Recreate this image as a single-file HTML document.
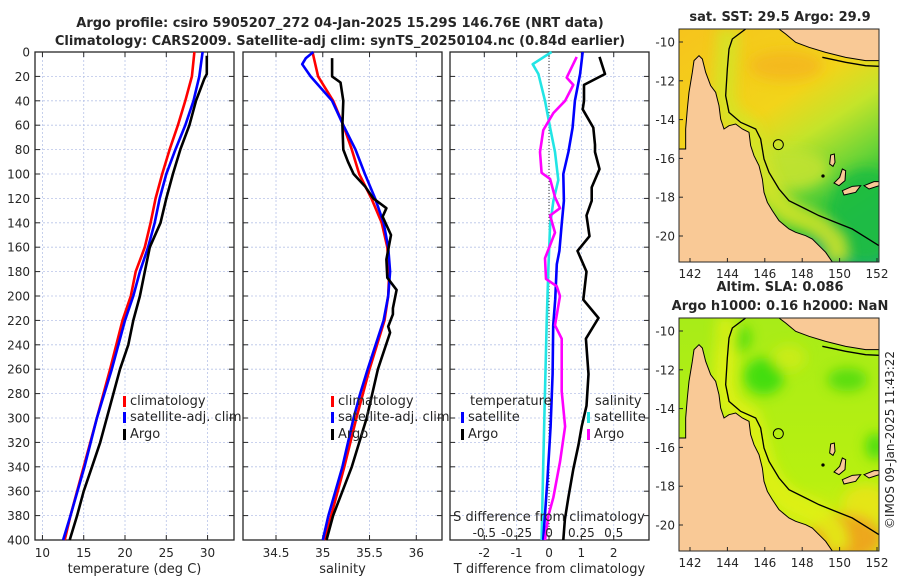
<!DOCTYPE html>
<html><head><meta charset="utf-8"><style>
body{margin:0;background:#fff;}
svg text{font-family:"DejaVu Sans","Liberation Sans",sans-serif;fill:#262626;}
</style></head><body>
<svg id="fig" width="900" height="580" viewBox="0 0 900 580" xmlns="http://www.w3.org/2000/svg">
<defs>
<linearGradient id="sst" x1="0" y1="0" x2="0.55" y2="1">
<stop offset="0" stop-color="#f6c41c"/><stop offset="0.45" stop-color="#f2d41a"/><stop offset="0.62" stop-color="#c4e42a"/><stop offset="0.8" stop-color="#6cd436"/><stop offset="0.92" stop-color="#2ec33c"/><stop offset="1" stop-color="#1fb070"/>
</linearGradient>
<linearGradient id="sla" x1="0" y1="0" x2="0" y2="1">
<stop offset="0" stop-color="#a8ec18"/><stop offset="0.7" stop-color="#b8f010"/><stop offset="1" stop-color="#dcec18"/>
</linearGradient>
<filter id="blur" x="-50%" y="-50%" width="200%" height="200%"><feGaussianBlur stdDeviation="18"/></filter>
<g id="geo">
<path d="M20,360 L20,300 L25,240 L30,190 L40,130 L45,95 L60,80 L70,90 L80,130 L95,170 L110,190 L120,230 L125,270 L135,300 L150,290 L170,285 L190,300 L210,310 L215,350 L225,380 L240,410 L250,450 L255,490 L265,520 L280,545 L300,575 L330,600 L350,610 L380,620 L400,630 L420,650 L440,670 L460,699 L0,699 L0,360 Z" fill="#f9c996" stroke="#000" stroke-width="3"/>
<path d="M300,0 L320,15 L350,40 L390,55 L440,70 L500,85 L560,95 L600,95 L600,0 Z" fill="#f9c996" stroke="#000" stroke-width="3"/>
<path d="M200,0 L160,30 L150,60 L145,120 L140,200 L150,250 L185,280 L230,300 L245,330 L255,390 L270,430 L300,480 L330,515 L380,540 L420,560 L470,580 L520,600 L560,625 L600,650" fill="none" stroke="#000" stroke-width="4"/>
<path d="M430,85 L500,100 L560,110 L600,112" fill="none" stroke="#000" stroke-width="4"/>
<path d="M455,378 L466,375 L468,400 L462,412 L452,405 Z M490,420 L500,425 L498,455 L480,470 L465,462 L482,445 Z M490,485 L520,472 L545,470 L530,490 L495,498 Z M555,470 L585,458 L600,458 L600,470 L570,480 Z" fill="#f9c996" stroke="#000" stroke-width="3"/>
<circle cx="432" cy="441" r="5" fill="#000"/>
</g>
</defs>
</svg>
<script>
// ---- data ----
const depthTick=[0,20,40,60,80,100,120,140,160,180,200,220,240,260,280,300,320,340,360,380,400];
const tempTicks=[10,15,20,25,30];
const salTicks=[34.5,35,35.5,36];
const tdTicks=[-2,-1,0,1,2];
const sdTicks=[-0.5,-0.25,0,0.25,0.5];
const sdTickLabels=["-0.5","-0.25","0","0.25","0.5"];
const latTicks=[-10,-12,-14,-16,-18,-20];
const lonTicks=[142,144,146,148,150,152];

const tClimD=[0,20,40,60,80,100,120,140,160,180,200,220,260,300,340,380,400];
const tClim=[28.4,28.1,27.3,26.4,25.4,24.5,23.7,23.1,22.4,21.3,20.7,19.7,18.2,16.6,15.0,13.4,12.7];
const tSatD=[0,20,40,60,80,100,120,140,160,180,200,220,260,300,340,380,400];
const tSat=[29.4,29.0,28.3,27.3,26.1,25.0,24.2,23.6,22.8,21.8,21.0,20.0,18.4,16.6,15.1,13.4,12.5];
const tArgoD=[3,18,22,40,60,80,100,120,140,160,180,200,220,240,260,280,300,320,340,360,380,400];
const tArgo=[29.9,29.9,29.6,28.6,27.8,26.7,25.8,25.0,24.3,23.0,22.4,21.8,21.0,20.4,19.4,18.6,17.8,17.0,16.0,15.0,14.2,13.3];

const sClimD=[0,20,40,60,80,100,120,140,160,180,200,220,260,300,340,380,400];
const sClim=[34.89,34.95,35.11,35.22,35.31,35.39,35.52,35.63,35.69,35.71,35.70,35.66,35.50,35.36,35.23,35.09,35.02];
const sSatD=[0,5,10,20,40,60,80,100,120,140,160,180,200,220,260,280,300,340,380,400];
const sSat=[34.90,34.82,34.78,34.87,35.10,35.22,35.35,35.45,35.56,35.65,35.70,35.72,35.70,35.65,35.48,35.40,35.33,35.21,35.06,35.00];
const sArgoD=[5,20,25,40,60,80,90,100,110,120,128,135,150,170,185,195,210,215,225,230,260,300,340,380,400];
const sArgo=[35.10,35.10,35.19,35.22,35.21,35.22,35.27,35.33,35.45,35.54,35.68,35.64,35.73,35.68,35.69,35.79,35.75,35.75,35.70,35.72,35.59,35.47,35.31,35.11,35.04];

const dtSatD=[0,18,40,62,82,100,122,142,163,174,203,224,264,307,351,400];
const dtSat=[1.04,0.96,0.80,0.73,0.60,0.44,0.46,0.39,0.32,0.24,0.19,0.13,0.11,0.05,-0.05,-0.18];
const dtArgoD=[4,18,27,40,47,62,76,82,96,111,122,134,151,163,180,203,218,235,264,290,307,322,342,365,383,400];
const dtArgo=[1.56,1.73,1.08,1.08,1.04,1.37,1.42,1.42,1.56,1.32,1.32,1.16,1.25,0.88,1.16,1.06,1.53,1.14,1.22,1.16,1.01,0.91,0.75,0.60,0.49,0.44];
const dsSatD=[0,10,18,40,62,82,105,122,142,177,221,278,336,400];
const dsSat=[0.02,-0.126,-0.082,-0.031,0.008,0.046,0.072,0.034,0.008,-0.005,-0.018,-0.031,-0.044,-0.057];
const dsArgoD=[4,21,27,40,50,64,82,99,104,119,128,134,148,169,186,192,200,224,235,278,307,336,365,380,400];
const dsArgo=[0.214,0.137,0.188,0.124,0.034,-0.044,-0.07,-0.057,0.008,0.046,0.085,0.008,0.046,-0.031,-0.023,0.059,0.085,0.046,0.098,0.098,0.124,0.085,0.034,-0.005,-0.031];

// ---- layout ----
const NS="http://www.w3.org/2000/svg";
const svg=document.getElementById('fig');
const Y0=52,Y1=540;
const yD=d=>Y0+(d/400)*(Y1-Y0);
const P1={x0:35,x1:234,lo:9.1,hi:33.2};
const P2={x0:243,x1:442,lo:34.147,hi:36.275};
const P3={x0:450,x1:649,lo:-3.06,hi:3.09};
const sx=(p,v)=>p.x0+(v-p.lo)/(p.hi-p.lo)*(p.x1-p.x0);
const sdx=v=>sx(P3,v*4);

function el(tag,attrs,parent){const e=document.createElementNS(NS,tag);for(const k in attrs)e.setAttribute(k,attrs[k]);(parent||svg).appendChild(e);return e;}
function txt(x,y,s,size,anchor,weight,parent){const t=el('text',{x:x,y:y,'font-size':size,'text-anchor':anchor||'middle','font-weight':weight||'normal'},parent);t.textContent=s;return t;}

let t=txt(340,27,"Argo profile: csiro 5905207_272 04-Jan-2025 15.29S 146.76E (NRT data)",13,'middle','bold');


t=txt(340,45,"Climatology: CARS2009. Satellite-adj clim: synTS_20250104.nc (0.84d earlier)",13,'middle','bold');



function panel(p,name,ticks,tickLabels,xlabel){
  const g=el('g',{});
  
  
  depthTick.forEach(d=>{
    if(d>0&&d<400){const l=el('line',{x1:p.x0,x2:p.x1,y1:yD(d),y2:yD(d),stroke:'#b8c4e8','stroke-width':0.8,'stroke-dasharray':'2,2'},g);
    
    }
    el('line',{x1:p.x0,x2:p.x0+5,y1:yD(d),y2:yD(d),stroke:'#262626','stroke-width':1},g);
    el('line',{x1:p.x1,x2:p.x1-5,y1:yD(d),y2:yD(d),stroke:'#262626','stroke-width':1},g);
  });
  ticks.forEach((v,i)=>{
    const x=sx(p,v);
    const l=el('line',{x1:x,x2:x,y1:Y0,y2:Y1,stroke:'#b8c4e8','stroke-width':0.8,'stroke-dasharray':'2,2'},g);
    
    
    el('line',{x1:x,x2:x,y1:Y1,y2:Y1-5,stroke:'#262626'},g);
    el('line',{x1:x,x2:x,y1:Y0,y2:Y0+5,stroke:'#262626'},g);
    const tl=txt(x,557,tickLabels[i],12,'middle','normal',g);
    
    
  });
  const r=el('rect',{x:p.x0,y:Y0,width:p.x1-p.x0,height:Y1-Y0,fill:'none',stroke:'#262626','stroke-width':1.3},g);
  
  
  const xl=txt((p.x0+p.x1)/2,573,xlabel,13,'middle','normal',g);
  
  
  return g;
}
const g1=panel(P1,'temperature-panel',tempTicks,tempTicks.map(String),'temperature (deg C)');
const g2=panel(P2,'salinity-panel',salTicks,salTicks.map(String),'salinity');
const g3=panel(P3,'difference-panel',tdTicks,tdTicks.map(String),'T difference from climatology');

depthTick.forEach(d=>{const tl=txt(30,yD(d)+4.5,String(d),12,'end');

});

let z=el('line',{x1:sx(P3,0),x2:sx(P3,0),y1:Y0,y2:Y1,stroke:'#333','stroke-width':1,'stroke-dasharray':'1,2'},g3);



function line(ds,vs,fx,color,name,parent){
  const pts=ds.map((d,i)=>fx(vs[i]).toFixed(1)+','+yD(d).toFixed(1)).join(' ');
  const pl=el('polyline',{points:pts,fill:'none',stroke:color,'stroke-width':2.6,'stroke-linejoin':'round'},parent);
  
  
}
line(tClimD,tClim,v=>sx(P1,v),'#ff0000','temp-climatology-line',g1);
line(tSatD,tSat,v=>sx(P1,v),'#0000ff','temp-satellite-line',g1);
line(tArgoD,tArgo,v=>sx(P1,v),'#000000','temp-argo-line',g1);
line(sClimD,sClim,v=>sx(P2,v),'#ff0000','sal-climatology-line',g2);
line(sSatD,sSat,v=>sx(P2,v),'#0000ff','sal-satellite-line',g2);
line(sArgoD,sArgo,v=>sx(P2,v),'#000000','sal-argo-line',g2);
line(dsSatD,dsSat,sdx,'#22e5e5','sdiff-satellite-line',g3);
line(dtSatD,dtSat,v=>sx(P3,v),'#0000ff','tdiff-satellite-line',g3);
line(dsArgoD,dsArgo,sdx,'#ff00ff','sdiff-argo-line',g3);
line(dtArgoD,dtArgo,v=>sx(P3,v),'#000000','tdiff-argo-line',g3);

function legend(x,y,color,label,parent,name){
  const g=el('g',{},parent);
  
  
  if(color)el('rect',{x:x,y:y-9,width:3,height:11,fill:color},g);
  txt(x+7,y,label,13,'start','normal',g);
}
legend(123,405,'#ff0000','climatology',g1,'legend-climatology');
legend(123,421,'#0000ff','satellite-adj. clim',g1,'legend-satellite');
legend(123,438,'#000000','Argo',g1,'legend-argo');
legend(331,405,'#ff0000','climatology',g2,'legend-climatology');
legend(331,421,'#0000ff','satellite-adj. clim',g2,'legend-satellite');
legend(331,438,'#000000','Argo',g2,'legend-argo');
legend(463,405,null,'temperature',g3,'legend-temperature-heading');
legend(461,421,'#0000ff','satellite',g3,'legend-temp-satellite');
legend(461,438,'#000000','Argo',g3,'legend-temp-argo');
legend(588,405,null,'salinity',g3,'legend-salinity-heading');
legend(587,421,'#22e5e5','satellite',g3,'legend-sal-satellite');
legend(587,438,'#ff00ff','Argo',g3,'legend-sal-argo');
t=txt(549,521,'S difference from climatology',13,'middle','normal',g3);


sdTicks.forEach((v,i)=>{const tl=txt(sdx(v),537,sdTickLabels[i],12,'middle','normal',g3);

});

// maps (inner coords: 600x699 for 200x233 px)
const mapX=lon=>33+56.1*(lon-142);
const mapY=lat=>39+(-10-lat)*58.2;
function map(top,bg,name,titles,blobs,band){
  const g=el('g',{});
  
  
  const inner=el('svg',{x:679,y:top,width:200,height:233,viewBox:'0 0 600 699',preserveAspectRatio:'none'},g);
  el('rect',{x:0,y:0,width:600,height:699,fill:bg},inner);
  const bg2=el('g',{filter:'url(#blur)'},inner);
  blobs.forEach(b=>el('ellipse',{cx:b[0],cy:b[1],rx:b[2],ry:b[3],fill:b[4],opacity:0.9},bg2));
  el('path',{d:'M150,0 L140,120 L135,200 L150,260 L210,300 L230,360 L250,440 L280,500 L330,550 L420,590 L470,640 L480,699',fill:'none',stroke:band,'stroke-width':70,opacity:0.85,filter:'url(#blur)'},inner);
  el('use',{href:'#geo'},inner);
  const c=el('circle',{cx:298,cy:347,r:15,fill:'none',stroke:'#000','stroke-width':3},inner);
  
  
  el('rect',{x:679,y:top,width:200,height:233,fill:'none',stroke:'#262626','stroke-width':1},g);
  latTicks.forEach(l=>{const y=top+mapY(l)/3;
    el('line',{x1:679,x2:683,y1:y,y2:y,stroke:'#262626'},g);
    const tl=txt(675,y+4.5,String(l),12,'end','normal',g);
    
    });
  lonTicks.forEach(l=>{const x=679+mapX(l)/3;
    el('line',{x1:x,x2:x,y1:top+233,y2:top+229,stroke:'#262626'},g);
    const tl=txt(x,top+249,String(l),12,'middle','normal',g);
    
    });
  titles.forEach((s,i)=>{const tl=txt(780,titles.length==1?top-8:top-27+i*19,s,13,'middle','bold',g);
    
    });
}
map(29,'url(#sst)','sst-map',['sat. SST: 29.5 Argo: 29.9'],
  [[320,110,110,45,'#f4b81e'],[560,560,110,140,'#20bc40'],[330,420,120,60,'#c0e230']],'#d4e428');
map(318,'url(#sla)','sla-map',['Altim. SLA: 0.086','Argo h1000: 0.16 h2000: NaN'],
  [[255,175,60,55,'#36dc10'],[505,185,60,35,'#52dc10'],[175,60,40,40,'#40dc10'],[590,385,30,40,'#40dc10'],[330,120,50,40,'#ccec18'],[560,560,70,60,'#e8e418'],[500,660,110,70,'#f0a020']],'#e2f018');

t=txt(0,0,'©IMOS 09-Jan-2025 11:43:22',12,'middle');
t.setAttribute('transform','translate(894,440) rotate(-90)');


</script>
</body></html>
